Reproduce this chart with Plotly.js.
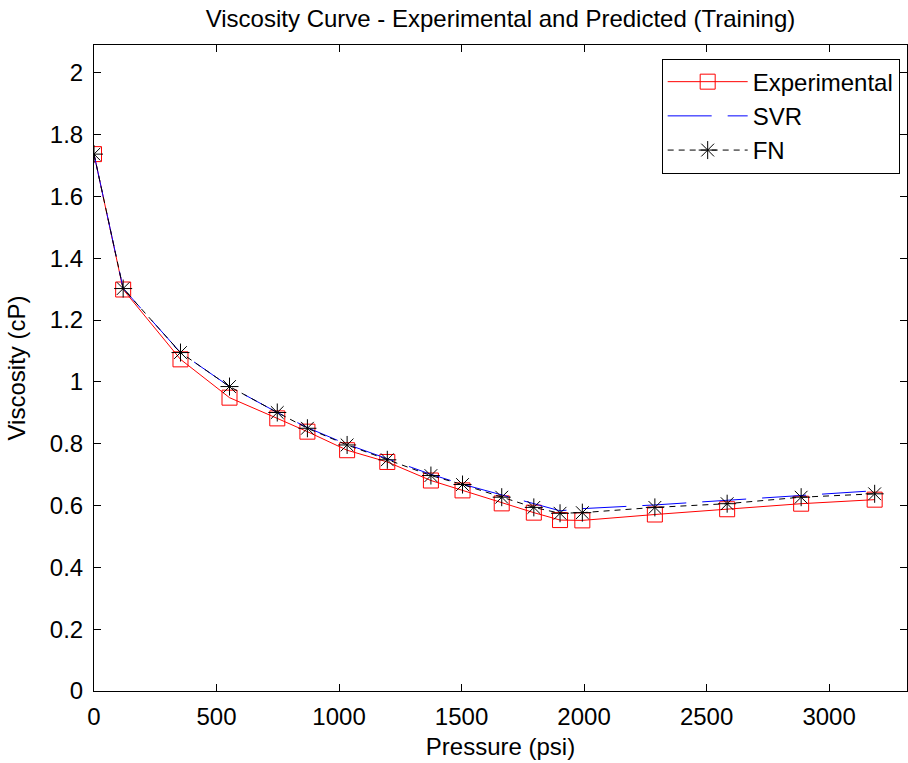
<!DOCTYPE html>
<html>
<head>
<meta charset="utf-8">
<script src="https://cdn.plot.ly/plotly-3.0.1.min.js"></script>
<style>html,body{margin:0;padding:0;background:#fff;}#chart{width:908px;height:763px;}</style>
</head>
<body>
<div id="chart"></div>
<script>
const pressure = [0, 119, 353, 553, 748, 871, 1033, 1197, 1375, 1504, 1664, 1795, 1902, 1993, 2289, 2584, 2886, 3186];
const experimental = [1.737, 1.299, 1.073, 0.949, 0.882, 0.839, 0.779, 0.741, 0.681, 0.649, 0.607, 0.577, 0.553, 0.552, 0.571, 0.588, 0.606, 0.619];
const svr = [1.737, 1.302, 1.095, 0.985, 0.901, 0.852, 0.798, 0.752, 0.701, 0.669, 0.634, 0.605, 0.583, 0.590, 0.602, 0.617, 0.632, 0.648];
const fn = [1.737, 1.302, 1.095, 0.985, 0.901, 0.850, 0.796, 0.748, 0.697, 0.668, 0.627, 0.594, 0.575, 0.577, 0.594, 0.606, 0.627, 0.638];

const FONT = 'Liberation Sans, Arial, sans-serif';

const traces = [
  {x: pressure, y: experimental, name: 'Experimental', type: 'scatter', mode: 'lines+markers',
   line: {color: '#ff0000', width: 1},
   marker: {symbol: 'square-open', size: 15, color: '#ff0000', line: {width: 1, color: '#ff0000'}}},
  {x: pressure, y: svr, name: 'SVR', type: 'scatter', mode: 'lines',
   line: {color: '#0000ff', width: 1, dash: '44px,16px'}},
  {x: pressure, y: fn, name: 'FN', type: 'scatter', mode: 'lines+markers',
   line: {color: '#000000', width: 1, dash: '6px,5px'},
   marker: {symbol: 'asterisk-open', size: 15, color: '#000000', line: {width: 1, color: '#000000'}}}
];

const layout = {
  width: 908, height: 763,
  margin: {l: 94, r: 1, t: 45, b: 72, pad: 0},
  paper_bgcolor: '#ffffff', plot_bgcolor: '#ffffff',
  font: {family: FONT, size: 24, color: '#000'},
  title: {text: 'Viscosity Curve - Experimental and Predicted (Training)', font: {family: FONT, size: 24, color: '#000'},
          x: 0.5, xref: 'paper', y: 0.976, yanchor: 'middle'},
  xaxis: {range: [0, 3318], dtick: 500, tick0: 0, showgrid: false, zeroline: false,
          showline: true, linecolor: '#000', linewidth: 1, mirror: 'ticks',
          ticks: 'inside', ticklen: 7, tickcolor: '#000', tickwidth: 1, ticklabelstandoff: 4,
          tickfont: {family: FONT, size: 24, color: '#000'},
          title: {text: 'Pressure (psi)', font: {family: FONT, size: 24, color: '#000'}, standoff: 9}},
  yaxis: {range: [0, 2.09], dtick: 0.2, tick0: 0, showgrid: false, zeroline: false,
          showline: true, linecolor: '#000', linewidth: 1, mirror: 'ticks',
          ticks: 'inside', ticklen: 7, tickcolor: '#000', tickwidth: 1, ticklabelstandoff: 5,
          tickfont: {family: FONT, size: 24, color: '#000'},
          title: {text: 'Viscosity (cP)', font: {family: FONT, size: 24, color: '#000'}, standoff: 17}},
  legend: {x: 0.991, y: 0.979, xanchor: 'right', yanchor: 'top', bgcolor: '#ffffff',
           bordercolor: '#000', borderwidth: 1, font: {family: FONT, size: 24, color: '#000'},
           tracegroupgap: 0, itemwidth: 80},
  showlegend: true
};

Plotly.newPlot('chart', traces, layout, {displayModeBar: false, staticPlot: true});
</script>
</body>
</html>
